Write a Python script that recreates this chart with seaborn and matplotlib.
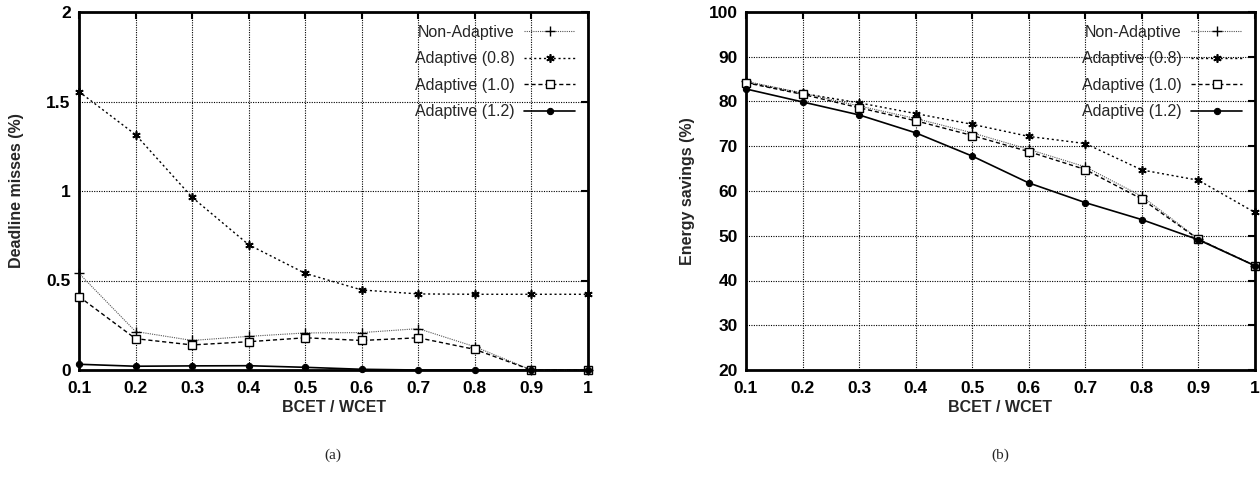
import matplotlib
matplotlib.use("Agg")
import matplotlib.pyplot as plt
import seaborn as sns
import pandas as pd

ratio = [0.1, 0.2, 0.3, 0.4, 0.5, 0.6, 0.7, 0.8, 0.9, 1.0]
series_names = ["Non-Adaptive", "Adaptive (0.8)", "Adaptive (1.0)", "Adaptive (1.2)"]

# (a) deadline misses (%)
miss_non_adaptive = [0.54, 0.215, 0.165, 0.188, 0.207, 0.209, 0.231, 0.13, 0.0, 0.0]
miss_adaptive_08 = [1.555, 1.315, 0.965, 0.70, 0.54, 0.447, 0.425, 0.423, 0.423, 0.423]
miss_adaptive_10 = [0.41, 0.175, 0.14, 0.158, 0.18, 0.165, 0.18, 0.115, 0.0, 0.0]
miss_adaptive_12 = [0.032, 0.021, 0.023, 0.024, 0.015, 0.004, 0.0, 0.0, 0.0, 0.0]

# (b) energy savings (%)
energy_non_adaptive = [84.5, 81.9, 79.0, 76.2, 73.0, 69.3, 65.4, 58.8, 49.3, 43.3]
energy_adaptive_08 = [84.3, 81.8, 79.7, 77.3, 74.9, 72.2, 70.6, 64.7, 62.4, 55.2]
energy_adaptive_10 = [84.2, 81.6, 78.6, 75.7, 72.4, 68.8, 64.8, 58.2, 49.2, 43.3]
energy_adaptive_12 = [82.8, 79.9, 77.0, 73.0, 67.8, 61.8, 57.4, 53.6, 49.1, 43.3]

x_ticks = [0.1, 0.2, 0.3, 0.4, 0.5, 0.6, 0.7, 0.8, 0.9, 1.0]
x_tick_labels = ["0.1", "0.2", "0.3", "0.4", "0.5", "0.6", "0.7", "0.8", "0.9", "1"]
miss_ticks = [0, 0.5, 1, 1.5, 2]
miss_tick_labels = ["0", "0.5", "1", "1.5", "2"]
energy_ticks = [20, 30, 40, 50, 60, 70, 80, 90, 100]

sns.set_theme(style="white")
plt.rcParams["font.family"] = ["Liberation Sans", "DejaVu Sans"]

styles = [
    dict(color="#555555", linestyle=(0, (1, 1)), linewidth=0.8, marker="+", markersize=7,
         markeredgewidth=1.0, markeredgecolor="black"),
    dict(color="black", linestyle=(0, (1.5, 2)), linewidth=1.0, marker=(6, 2, 0), markersize=6,
         markeredgewidth=1.2, markeredgecolor="black"),
    dict(color="black", linestyle=(0, (3, 2)), linewidth=1.0, marker="s", markersize=5.7,
         markerfacecolor="white", markeredgewidth=1.0, markeredgecolor="black"),
    dict(color="black", linestyle="-", linewidth=1.2, marker="o", markersize=4.5,
         markeredgecolor="black", markerfacecolor="black"),
]

fig = plt.figure(figsize=(12.6, 4.86), dpi=100)
ax1 = fig.add_axes([79 / 1260, 1 - 370 / 486, 509 / 1260, 358 / 486])
ax2 = fig.add_axes([746 / 1260, 1 - 370 / 486, 509 / 1260, 358 / 486])

panels = [
    (ax1, [miss_non_adaptive, miss_adaptive_08, miss_adaptive_10, miss_adaptive_12],
     "Deadline misses (%)", (0, 2), miss_ticks, miss_tick_labels, 16),
    (ax2, [energy_non_adaptive, energy_adaptive_08, energy_adaptive_10, energy_adaptive_12],
     "Energy savings (%)", (20, 100), energy_ticks, [str(t) for t in energy_ticks], 10),
]

for ax, data, ylab, ylim, yt, ytl, ypad in panels:
    for name, vals, st in zip(series_names, data, styles):
        df = pd.DataFrame({"x": ratio, "y": vals})
        sns.lineplot(data=df, x="x", y="y", ax=ax, label=name, clip_on=False, zorder=3, **st)
    ax.set_xlim(0.1, 1.0)
    ax.set_ylim(*ylim)
    ax.set_xticks(x_ticks)
    ax.set_xticklabels(x_tick_labels)
    ax.set_yticks(yt)
    ax.set_yticklabels(ytl)
    ax.grid(True, color="black", linestyle=(0, (1, 1.2)), linewidth=0.8)
    ax.set_axisbelow(True)
    for s in ax.spines.values():
        s.set_visible(True)
        s.set_color("black")
        s.set_linewidth(2.0)
    ax.tick_params(direction="in", length=5, width=1.5, top=True, right=True,
                   labelsize=12.5, colors="black")
    ax.tick_params(axis="x", pad=8)
    ax.tick_params(axis="y", pad=6)
    for lbl in ax.get_xticklabels() + ax.get_yticklabels():
        lbl.set_fontweight("bold")
    ax.set_xlabel("BCET / WCET", fontsize=11.5, fontweight="bold", labelpad=3)
    ax.set_ylabel(ylab, fontsize=11.5, fontweight="bold", labelpad=ypad)
    leg = ax.legend(loc="upper right", frameon=False, markerfirst=False, fontsize=11.5,
                    handlelength=3.2, handletextpad=0.6, labelspacing=0.72,
                    borderaxespad=0.4)

fig.text(333 / 1260, 1 - 455 / 486, "(a)", ha="center", va="center",
         fontsize=11, family=["Liberation Serif", "DejaVu Serif"])
fig.text(1000 / 1260, 1 - 455 / 486, "(b)", ha="center", va="center",
         fontsize=11, family=["Liberation Serif", "DejaVu Serif"])

fig.savefig("out.png", dpi=100)
